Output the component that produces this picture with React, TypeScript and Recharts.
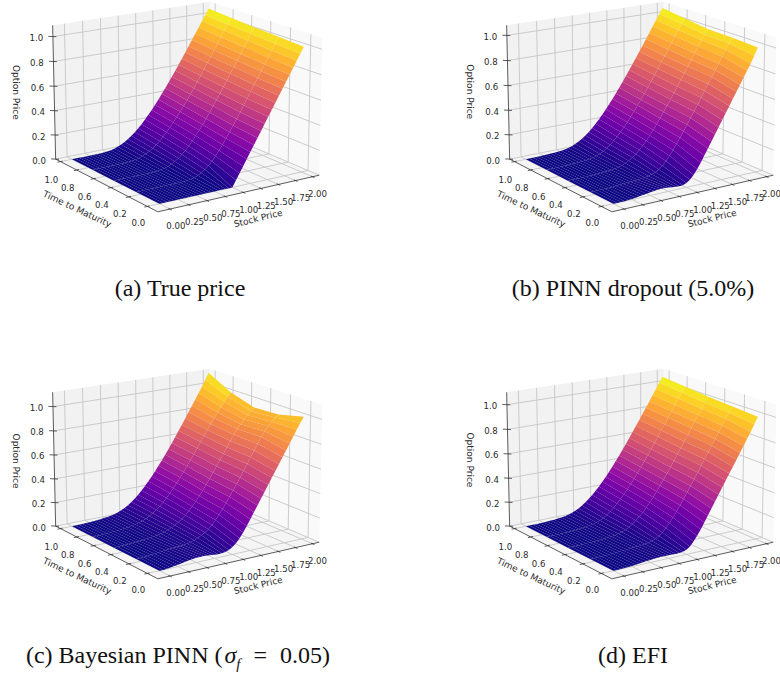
/**
 * Four option price surfaces, drawn as projected facets on Recharts scatter charts.
 */
import { ScatterChart, Scatter, XAxis, YAxis } from "recharts";

const STOCK_PRICES = [
  0, 0.05, 0.1, 0.15, 0.2, 0.25, 0.3, 0.35, 0.4, 0.45, 0.5, 0.55, 0.6, 0.65, 0.7, 0.75, 0.8, 0.85, 0.9, 0.95, 1,
  1.05, 1.1, 1.15, 1.2, 1.25, 1.3, 1.35, 1.4, 1.45, 1.5, 1.55, 1.6, 1.65, 1.7, 1.75, 1.8, 1.85, 1.9, 1.95, 2,
];
const MATURITIES = [0, 0.25, 0.5, 0.75, 1];

const STOCK_TICKS = [0, 0.25, 0.5, 0.75, 1, 1.25, 1.5, 1.75, 2];
const TIME_TICKS = [0, 0.2, 0.4, 0.6, 0.8, 1];
const PRICE_TICKS = [0, 0.2, 0.4, 0.6, 0.8, 1];

// one row per maturity, one value per stock price
const TRUE_PRICE = [
  [0,0,0,0,0,0,0,0,0,0,0,0,0,0,0,0,0,0,0,0,0,.05,.1,.15,.2,.25,.3,.35,.4,.45,.5,.55,.6,.65,.7,.75,.8,.85,.9,.95,1],
  [0,0,0,0,0,0,0,0,0,0,0,0,0,0,.003,.007,.013,.024,.039,.06,.086,.116,.151,.19,.231,.275,.321,.368,.416,.465,.514,.563,.613,.663,.713,.762,.812,.862,.912,.962,1.012],
  [0,0,0,0,0,0,0,0,0,0,0,.001,.004,.008,.014,.023,.036,.052,.072,.096,.124,.155,.19,.227,.266,.307,.35,.395,.441,.487,.534,.582,.631,.68,.728,.777,.827,.876,.926,.976,1.026],
  [0,0,0,0,0,0,0,0,.001,.001,.003,.006,.01,.017,.027,.04,.056,.076,.099,.125,.154,.186,.22,.257,.296,.336,.378,.421,.465,.51,.556,.603,.65,.698,.746,.794,.843,.892,.941,.99,1.04],
  [0,0,0,0,0,0,0,0,.001,.003,.006,.011,.018,.028,.041,.057,.076,.098,.123,.15,.18,.213,.248,.284,.323,.362,.404,.446,.489,.534,.579,.625,.671,.718,.766,.813,.861,.909,.958,1.007,1.056],
];
const DROPOUT_PRICE = [
  [0,0,0,0,.002,.005,.008,.012,.016,.02,.024,.028,.031,.033,.032,.03,.027,.024,.022,.024,.035,.055,.085,.125,.17,.22,.27,.32,.37,.42,.47,.52,.57,.62,.67,.72,.77,.82,.87,.925,.985],
  [0,0,0,0,0,0,.002,.004,.006,.008,.01,.012,.014,.016,.018,.021,.026,.034,.045,.06,.085,.116,.152,.192,.235,.279,.325,.372,.42,.468,.516,.565,.614,.664,.713,.762,.812,.861,.91,.955,.995],
  [0,0,0,0,0,.001,.002,.003,.004,.005,.007,.009,.012,.016,.022,.031,.043,.058,.077,.1,.127,.157,.191,.228,.267,.308,.351,.396,.441,.487,.534,.582,.63,.678,.726,.775,.823,.872,.921,.96,1],
  [0,0,0,0,.001,.002,.003,.004,.005,.007,.009,.012,.016,.021,.029,.04,.056,.076,.099,.125,.154,.186,.22,.257,.296,.336,.378,.421,.465,.51,.556,.603,.65,.698,.746,.794,.843,.892,.94,.985,1.025],
  [0,0,0,.001,.002,.003,.004,.006,.008,.01,.013,.017,.024,.033,.045,.06,.078,.1,.124,.151,.181,.213,.248,.284,.323,.362,.404,.446,.489,.534,.579,.625,.671,.718,.766,.813,.861,.909,.958,1.005,1.05],
];
const BAYESIAN_PRICE = [
  [0,0,.002,.006,.01,.015,.02,.025,.03,.034,.037,.038,.038,.036,.033,.03,.028,.028,.032,.042,.06,.085,.118,.16,.205,.255,.305,.355,.405,.455,.505,.555,.605,.655,.705,.755,.805,.855,.905,.955,1],
  [0,.001,.003,.005,.007,.01,.013,.016,.019,.022,.025,.027,.029,.031,.034,.04,.05,.062,.078,.096,.116,.145,.18,.218,.26,.303,.348,.395,.442,.49,.54,.59,.64,.69,.74,.79,.83,.87,.9,.93,.95],
  [0,.001,.002,.003,.005,.007,.009,.011,.013,.016,.019,.022,.027,.034,.042,.052,.065,.08,.098,.12,.146,.175,.208,.244,.283,.324,.367,.412,.458,.505,.553,.6,.648,.695,.742,.785,.82,.855,.885,.915,.94],
  [0,0,.001,.002,.003,.005,.007,.009,.012,.015,.019,.024,.03,.038,.048,.061,.077,.096,.118,.143,.171,.202,.237,.274,.313,.354,.396,.44,.485,.53,.577,.624,.67,.717,.762,.806,.85,.89,.93,.97,1],
  [0,0,.001,.002,.003,.005,.007,.009,.012,.016,.02,.025,.032,.041,.053,.068,.086,.108,.132,.16,.19,.223,.258,.295,.335,.376,.418,.462,.507,.553,.6,.648,.696,.745,.795,.845,.895,.945,.995,1.05,1.105],
];
const EFI_PRICE = [
  [0,0,0,.001,.003,.005,.008,.011,.014,.017,.02,.022,.024,.025,.025,.025,.024,.023,.024,.028,.038,.058,.09,.13,.175,.225,.275,.325,.375,.425,.475,.525,.575,.625,.675,.725,.775,.825,.875,.93,.985],
  [0,0,0,.001,.002,.003,.005,.007,.009,.011,.013,.015,.017,.019,.021,.025,.03,.038,.05,.066,.088,.118,.153,.192,.235,.279,.325,.372,.42,.468,.517,.566,.615,.665,.714,.763,.812,.861,.91,.955,1],
  [0,0,0,.001,.002,.003,.004,.005,.007,.009,.011,.014,.017,.021,.027,.036,.048,.063,.082,.105,.131,.161,.195,.231,.27,.311,.354,.398,.444,.49,.537,.585,.633,.681,.73,.779,.828,.877,.925,.97,1.015],
  [0,0,0,0,.001,.002,.003,.005,.007,.009,.012,.015,.02,.026,.034,.045,.06,.08,.103,.129,.158,.19,.224,.26,.299,.339,.381,.424,.468,.513,.559,.606,.653,.701,.749,.797,.846,.895,.943,.99,1.035],
  [0,0,0,0,.001,.002,.004,.006,.008,.011,.015,.02,.027,.036,.048,.063,.081,.103,.127,.154,.184,.216,.251,.287,.326,.365,.407,.449,.492,.537,.582,.628,.674,.72,.768,.815,.863,.911,.96,1.008,1.055],
];

const PLASMA = ["#0d0887", "#41049d", "#6a00a8", "#8f0da4", "#b12a90", "#cc4778", "#e16462", "#f2844b", "#fca636", "#fcce25", "#f0f921"];

// axes limits of the box, camera as in a default matplotlib 3d axes
const S_LIM = [-0.16, 2.1];
const T_LIM = [-0.11, 1.06];
const ELEV = (16 * Math.PI) / 180;
const AZIM = (-124 * Math.PI) / 180;
const DIST = 10;
const BOX = [1.143, 1.143, 0.84];
const SCALE = 168;
const CENTER = [185.5, 100];

type Vec = [number, number, number];
type Zlim = [number, number];

const eye: Vec = [Math.cos(ELEV) * Math.cos(AZIM), Math.cos(ELEV) * Math.sin(AZIM), Math.sin(ELEV)];
const right: Vec = [-Math.sin(AZIM), Math.cos(AZIM), 0];
const up: Vec = [-Math.sin(ELEV) * Math.cos(AZIM), -Math.sin(ELEV) * Math.sin(AZIM), Math.cos(ELEV)];
const dot = (a: Vec, b: Vec) => a[0] * b[0] + a[1] * b[1] + a[2] * b[2];

function project(s: number, t: number, z: number, zlim: Zlim) {
  const p: Vec = [
    ((s - S_LIM[0]) / (S_LIM[1] - S_LIM[0]) - 0.5) * BOX[0],
    ((t - T_LIM[0]) / (T_LIM[1] - T_LIM[0]) - 0.5) * BOX[1],
    ((z - zlim[0]) / (zlim[1] - zlim[0]) - 0.5) * BOX[2],
  ];
  const depth = dot(p, eye);
  const f = DIST / (DIST - depth);
  return { x: CENTER[0] + SCALE * f * dot(p, right), y: CENTER[1] - SCALE * f * dot(p, up), depth };
}

function plasma(v: number, shade: number) {
  const t = Math.min(1, Math.max(0, v)) * (PLASMA.length - 1);
  const i = Math.min(PLASMA.length - 2, Math.floor(t));
  const a = PLASMA[i];
  const b = PLASMA[i + 1];
  const ch = (k: number) => {
    const c0 = parseInt(a.slice(k, k + 2), 16);
    const c1 = parseInt(b.slice(k, k + 2), 16);
    return Math.round((c0 + (c1 - c0) * (t - i)) * shade);
  };
  return `rgb(${ch(1)},${ch(3)},${ch(5)})`;
}

// polygon / segment item anchored on its first corner, the rest relative to it
function item(points: { x: number; y: number }[], extra: Record<string, unknown>) {
  const { x, y } = points[0];
  return { x, y, rel: points.map((p) => [p.x - x, p.y - y]), ...extra };
}

function buildFacets(rows: number[][], zlim: Zlim) {
  const flat = rows.flat();
  const lo = Math.min(...flat);
  const hi = Math.max(...flat);
  const light: Vec = [-0.667, -0.667, 0.333];
  const facets: any[] = [];
  for (let r = 0; r < MATURITIES.length - 1; r++) {
    for (let c = 0; c < STOCK_PRICES.length - 1; c++) {
      const s0 = STOCK_PRICES[c];
      const s1 = STOCK_PRICES[c + 1];
      const t0 = MATURITIES[r];
      const t1 = MATURITIES[r + 1];
      const z00 = rows[r][c];
      const z01 = rows[r][c + 1];
      const z10 = rows[r + 1][c];
      const z11 = rows[r + 1][c + 1];
      const corners = [
        project(s0, t0, z00, zlim),
        project(s1, t0, z01, zlim),
        project(s1, t1, z11, zlim),
        project(s0, t1, z10, zlim),
      ];
      const avg = (z00 + z01 + z10 + z11) / 4;
      const dzds = (z01 + z11 - z00 - z10) / (2 * (s1 - s0));
      const dzdt = (z10 + z11 - z00 - z01) / (2 * (t1 - t0));
      const len = Math.sqrt(dzds * dzds + dzdt * dzdt + 1);
      const lit = dot([-dzds / len, -dzdt / len, 1 / len], light);
      const shade = 0.88 + 0.14 * ((lit + 1) / 2);
      const fill = plasma((avg - lo) / (hi - lo), Math.min(1, shade));
      const depth = corners.reduce((sum, p) => sum + p.depth, 0) / 4;
      facets.push(item(corners, { fill, depth }));
    }
  }
  return facets.sort((a, b) => a.depth - b.depth);
}

function buildPanes(zlim: Zlim) {
  const [s0, s1] = S_LIM;
  const [t0, t1] = T_LIM;
  const [z0, z1] = zlim;
  const P = (s: number, t: number, z: number) => project(s, t, z, zlim);
  return [
    item([P(s0, t1, z0), P(s1, t1, z0), P(s1, t1, z1), P(s0, t1, z1)], { fill: "#f2f2f2" }),
    item([P(s1, t0, z0), P(s1, t1, z0), P(s1, t1, z1), P(s1, t0, z1)], { fill: "#f9f9f9" }),
    item([P(s0, t0, z0), P(s1, t0, z0), P(s1, t1, z0), P(s0, t1, z0)], { fill: "#f5f5f5" }),
  ];
}

function buildGrid(zlim: Zlim) {
  const [s0, s1] = S_LIM;
  const [t0, t1] = T_LIM;
  const [z0, z1] = zlim;
  const P = (s: number, t: number, z: number) => project(s, t, z, zlim);
  const lines: any[] = [];
  STOCK_TICKS.forEach((s) => lines.push(item([P(s, t0, z0), P(s, t1, z0), P(s, t1, z1)], {})));
  TIME_TICKS.forEach((t) => lines.push(item([P(s0, t, z0), P(s1, t, z0), P(s1, t, z1)], {})));
  PRICE_TICKS.forEach((z) => lines.push(item([P(s0, t1, z), P(s1, t1, z), P(s1, t0, z)], {})));
  return lines;
}

function buildAxes(zlim: Zlim) {
  const [s0, s1] = S_LIM;
  const [t0, t1] = T_LIM;
  const [z0, z1] = zlim;
  const P = (s: number, t: number, z: number) => project(s, t, z, zlim);
  const lines: any[] = [
    item([P(s0, t0, z0), P(s1, t0, z0)], {}),
    item([P(s0, t0, z0), P(s0, t1, z0)], {}),
    item([P(s0, t1, z0), P(s0, t1, z1)], {}),
  ];
  STOCK_TICKS.forEach((s) => lines.push(item([P(s, t0 - 0.02, z0), P(s, t0 + 0.015, z0)], {})));
  TIME_TICKS.forEach((t) => lines.push(item([P(s0 - 0.04, t, z0), P(s0 + 0.03, t, z0)], {})));
  PRICE_TICKS.forEach((z) => lines.push(item([P(s0 - 0.04, t1 + 0.02, z), P(s0 + 0.03, t1 - 0.015, z)], {})));
  return lines;
}

function buildLabels(zlim: Zlim) {
  const [s0] = S_LIM;
  const [t0, t1] = T_LIM;
  const z0 = zlim[0];
  const labels: any[] = [];
  const at = (s: number, t: number, z: number, dx: number, dy: number, text: string, size: number, rotate = 0) => {
    const p = project(s, t, z, zlim);
    labels.push({ x: p.x + dx, y: p.y + dy, text, size, rotate });
  };
  STOCK_TICKS.forEach((s) => at(s, t0, z0, 6 - 0.5 * s, 17 + 0.2 * s, s.toFixed(2), 8.6));
  TIME_TICKS.forEach((t) => at(s0, t, z0, -9, 17 + 1.5 * t, t.toFixed(1), 8.6));
  PRICE_TICKS.forEach((z) => at(s0, t1, z, -16.5, 1.5, z.toFixed(1), 8.6));
  at(1, t0, z0, 15, 26, "Stock Price", 9, -14);
  at(s0, 0.5, z0, -25, 26, "Time to Maturity", 9, 25);
  at(s0, t1, 0.55, -38, 0, "Option Price", 9, 90);
  return labels;
}

const Poly = ({ cx, cy, payload }: any) => (
  <polygon points={payload.rel.map((r: number[]) => `${cx + r[0]},${cy + r[1]}`).join(" ")} fill={payload.fill} />
);

const Path3 = ({ cx, cy, payload }: any) => (
  <polyline
    points={payload.rel.map((r: number[]) => `${cx + r[0]},${cy + r[1]}`).join(" ")}
    fill="none"
    stroke="#c6c6c6"
    strokeWidth={0.9}
  />
);

const AxisSeg = ({ cx, cy, payload }: any) => (
  <polyline
    points={payload.rel.map((r: number[]) => `${cx + r[0]},${cy + r[1]}`).join(" ")}
    fill="none"
    stroke="#333"
    strokeWidth={0.8}
  />
);

const Label = ({ cx, cy, payload }: any) => (
  <text
    x={cx}
    y={cy}
    fontFamily="DejaVu Sans"
    fontSize={payload.size}
    fill="#2a2a2a"
    textAnchor="middle"
    dominantBaseline="central"
    transform={payload.rotate ? `rotate(${payload.rotate} ${cx} ${cy})` : undefined}
  >
    {payload.text}
  </text>
);

const PANEL_W = 340;
const PANEL_H = 250;

function SurfacePanel({ rows, zlim, left, top }: { rows: number[][]; zlim: Zlim; left: number; top: number }) {
  return (
    <div style={{ position: "absolute", left, top }}>
      <ScatterChart width={PANEL_W} height={PANEL_H} margin={{ top: 0, right: 0, bottom: 0, left: 0 }}>
        <XAxis type="number" dataKey="x" domain={[0, PANEL_W]} hide allowDataOverflow />
        <YAxis type="number" dataKey="y" domain={[0, PANEL_H]} reversed hide allowDataOverflow />
        <Scatter data={buildPanes(zlim)} shape={Poly} isAnimationActive={false} />
        <Scatter data={buildGrid(zlim)} shape={Path3} isAnimationActive={false} />
        <Scatter data={buildAxes(zlim)} shape={AxisSeg} isAnimationActive={false} />
        <Scatter data={buildFacets(rows, zlim)} shape={Poly} isAnimationActive={false} />
        <Scatter data={buildLabels(zlim)} shape={Label} isAnimationActive={false} />
      </ScatterChart>
    </div>
  );
}

const captionStyle = (center: number, top: number): React.CSSProperties => ({
  position: "absolute",
  left: center - 200,
  width: 400,
  top,
  textAlign: "center",
  fontFamily: "Liberation Serif",
  fontSize: 24,
  lineHeight: "26px",
  color: "#111",
  whiteSpace: "nowrap",
});

export default function App() {
  return (
    <div style={{ position: "absolute", left: 0, top: 0, width: 780, height: 675, overflow: "hidden", background: "#fff" }}>
      <SurfacePanel rows={TRUE_PRICE} zlim={[0, 1.09]} left={0} top={0} />
      <SurfacePanel rows={DROPOUT_PRICE} zlim={[0, 1.08]} left={454} top={0} />
      <SurfacePanel rows={BAYESIAN_PRICE} zlim={[0, 1.117]} left={0} top={367} />
      <SurfacePanel rows={EFI_PRICE} zlim={[0, 1.1]} left={454} top={367} />
      <div style={captionStyle(180, 275)}>(a) True price</div>
      <div style={captionStyle(633, 275)}>(b) PINN dropout (5.0%)</div>
      <div style={captionStyle(178, 642)}>
        (c) Bayesian PINN (<i style={{ marginLeft: 2 }}>σ</i>
        <sub style={{ fontSize: 15, fontStyle: "italic", lineHeight: 0 }}>f</sub>
        <span style={{ margin: "0 13px" }}>=</span>0.05)
      </div>
      <div style={captionStyle(633, 642)}>(d) EFI</div>
    </div>
  );
}
